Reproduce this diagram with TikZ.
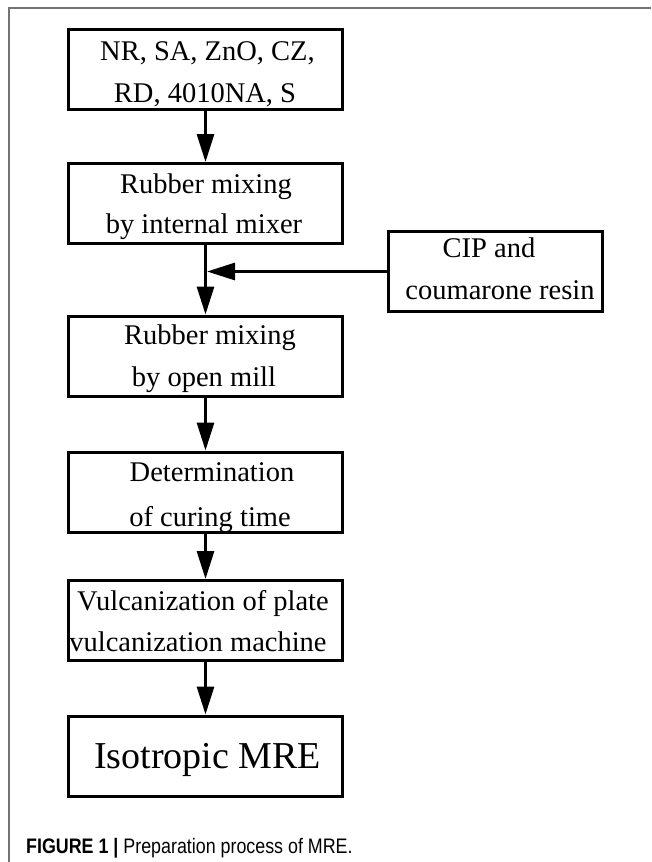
\documentclass[tikz,border=0pt]{standalone}
\usepackage{fontspec}
\setmainfont{Liberation Serif}
\newfontfamily\capfont[FakeStretch=0.85]{Liberation Sans}
\usetikzlibrary{arrows.meta}
\tikzset{
  box/.style={draw=black, line width=3pt, fill=white, inner sep=0pt, minimum width=274pt, minimum height=80pt},
  sidebox/.style={box, minimum width=214pt},
  txt/.style={anchor=base, inner sep=0pt, font=\fontsize{28.5}{34}\selectfont},
  bigtxt/.style={anchor=base, inner sep=0pt, font=\fontsize{38}{44}\selectfont},
  flow/.style={line width=3pt, -{Triangle[width=17pt,length=28pt]}},
  frameline/.style={draw=black!55, line width=1.5pt}
}
\begin{document}
\begin{tikzpicture}[x=1pt, y=-1pt]
\useasboundingbox[fill=white] (0,0) rectangle (651,862);
% frame
\draw[frameline] (651,8) -- (9,8) -- (9,862);
% boxes
\node[box] (b1) at (205.5,69) {};
\node[box] (b2) at (205.5,203.5) {};
\node[sidebox] (cip) at (495.5,271.5) {};
\node[box] (b3) at (205.5,356) {};
\node[box] (b4) at (205.5,492) {};
\node[box] (b5) at (205.5,620.5) {};
\node[box] (b6) at (205.5,756) {};
% texts
\node[txt] (t1a) at (207.5,60) {NR, SA, ZnO, CZ,};
\node[txt] (t1b) at (205,102) {RD, 4010NA, S};
\node[txt] (t2a) at (206,193) {Rubber mixing};
\node[txt] (t2b) at (204,233) {by internal mixer};
\node[txt] (tca) at (489,257) {CIP and};
\node[txt] (tcb) at (500,299) {coumarone resin};
\node[txt] (t3a) at (210,344) {Rubber mixing};
\node[txt] (t3b) at (204,386) {by open mill};
\node[txt] (t4a) at (212,481) {Determination};
\node[txt] (t4b) at (210,526) {of curing time};
\node[txt] (t5a) at (203,610) {Vulcanization of plate};
\node[txt] (t5b) at (198,651) {vulcanization machine};
\node[bigtxt] (t6) at (207.5,768) {Isotropic MRE};
% connectors
\coordinate (jt) at (207,271.5);
\draw[flow] (b1.south) -- (b2.north);
\draw[flow] (b2.south) -- (b3.north);
\draw[flow] (cip.west) -- (jt);
\draw[flow] (b3.south) -- (b4.north);
\draw[flow] (b4.south) -- (b5.north);
\draw[flow] (b5.south) -- (b6.north);
% caption
\node[anchor=base west, inner sep=0pt, font=\capfont\fontsize{21}{25}\selectfont] (cap) at (26,853) {\textbf{FIGURE 1 |} Preparation process of MRE.};
\end{tikzpicture}
\end{document}
